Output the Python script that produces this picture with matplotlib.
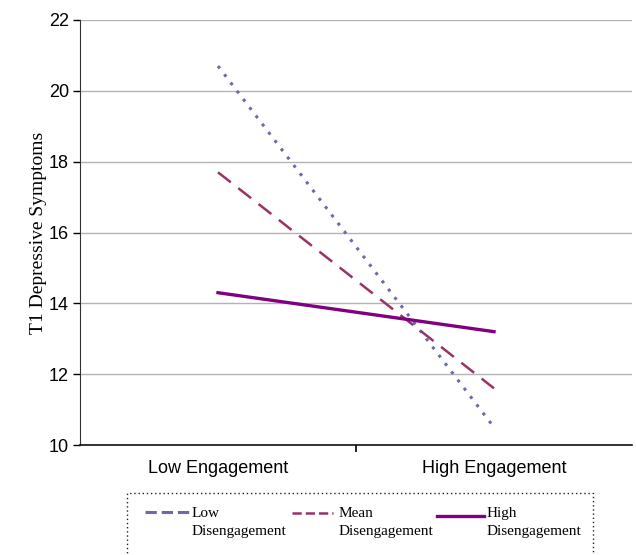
import matplotlib.pyplot as plt
from matplotlib.lines import Line2D
from matplotlib.patches import Rectangle

# data
conditions = ['Low Engagement', 'High Engagement']
low_dis = [20.7, 10.5]
mean_dis = [17.7, 11.6]
high_dis = [14.3, 13.2]
series_labels = ['Low\nDisengagement', 'Mean\nDisengagement', 'High\nDisengagement']
yticks = [10, 12, 14, 16, 18, 20, 22]

W, H = 636, 555
fig = plt.figure(figsize=(W / 100, H / 100), dpi=100)
ax = fig.add_axes([80 / W, (H - 445) / H, (632 - 80) / W, (445 - 20) / H])

sans = 'Liberation Sans'
serif = 'Liberation Serif'

x = range(len(conditions))
l1, = ax.plot(x, low_dis, color='#6a6aac', lw=2.2, ls=(0, (1, 2.4)))
l2, = ax.plot(x, mean_dis, color='#993366', lw=1.8, ls=(0, (6.5, 3.8)))
l3, = ax.plot(x, high_dis, color='#800080', lw=2.4)

ax.set_xlim(-0.5, 1.5)
ax.set_ylim(10, 22)
ax.set_yticks(yticks)
ax.set_yticklabels([str(v) for v in yticks], family=sans, fontsize=13)
ax.set_xticks(list(x))
ax.set_xticklabels(conditions, family=sans, fontsize=13)
ax.set_xticks([0.5], minor=True)
ax.tick_params(axis='x', which='major', length=0, pad=11)
ax.tick_params(axis='x', which='minor', length=5, width=1.2, direction='out')
ax.tick_params(axis='y', length=5, width=1, direction='out', pad=3)

ax.grid(axis='y', color='#b3b3b3', lw=1)
ax.set_axisbelow(True)
for s in ['top', 'right']:
    ax.spines[s].set_visible(False)
ax.spines['left'].set_color('#333333')
ax.spines['bottom'].set_color('#111111')
ax.spines['bottom'].set_linewidth(1.2)

ax.set_ylabel('T1 Depressive Symptoms', family=serif, fontsize=14, labelpad=1)

# legend box drawn by hand, bottom runs off the figure like in the reference
def fx(px):
    return px / W

def fy(py):
    return (H - py) / H

box = Rectangle((fx(127), fy(580)), fx(593) - fx(127), fy(493) - fy(580),
                transform=fig.transFigure, fill=False, ec='#222222', lw=1, ls=(0, (1, 2)))
fig.add_artist(box)

handles = [(l1, 145, 190, 512, 192), (l2, 292, 333, 513, 339), (l3, 437, 484, 516, 487)]
for (ln, x0, x1, yh, xt), lab in zip(handles, series_labels):
    fig.add_artist(Line2D([fx(x0), fx(x1)], [fy(yh), fy(yh)], transform=fig.transFigure,
                          color=ln.get_color(), lw=ln.get_linewidth(), ls=ln.get_linestyle()))
    fig.text(fx(xt), fy(507), lab, family=serif, fontsize=11, va='top', ha='left',
             linespacing=1.55)

fig.savefig('out.png', dpi=100)
